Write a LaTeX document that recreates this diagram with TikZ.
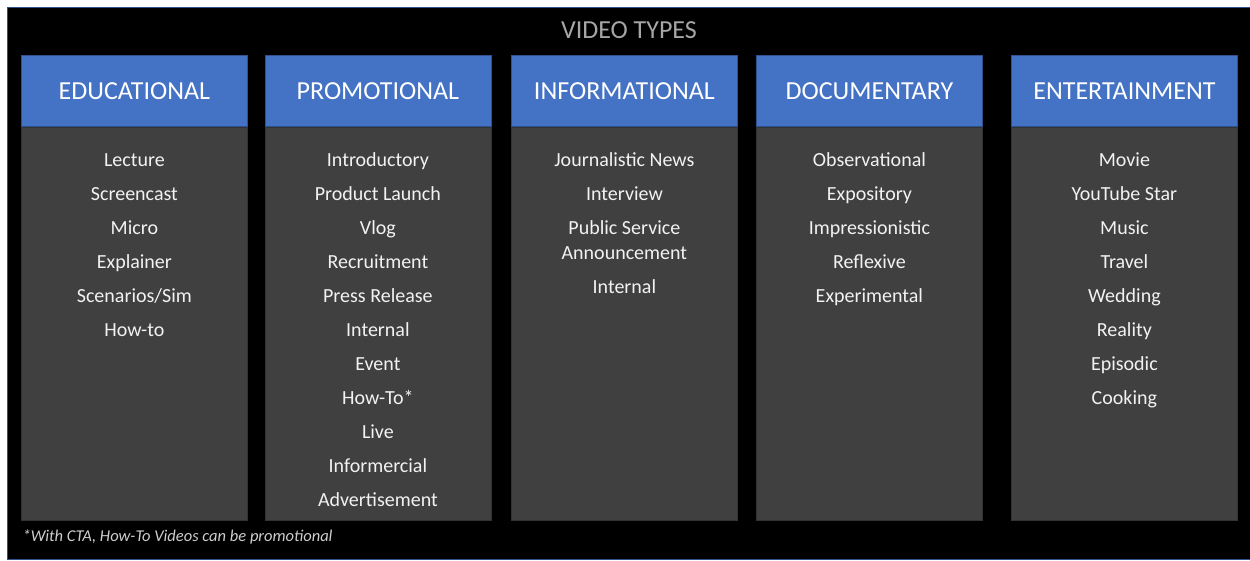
\documentclass[tikz,border=0pt]{standalone}
\usepackage{fontspec}
\setmainfont{Carlito}
\usetikzlibrary{positioning}
\definecolor{headblue}{HTML}{4472C4}
\definecolor{headedge}{HTML}{2F528F}
\definecolor{panelgray}{HTML}{404040}
\definecolor{titlegray}{HTML}{A6A6A6}
\definecolor{itemwhite}{HTML}{F2F2F2}

\begin{document}
\begin{tikzpicture}[
    x=1pt, y=-1pt,
    header/.style={rectangle, draw=headedge, line width=0.8pt, fill=headblue, minimum width=226pt, minimum height=71pt, inner sep=0pt, anchor=north west, text=white, font=\fontsize{26}{30}\selectfont},
    panel/.style={rectangle, draw=panelgray!80!black, line width=0.6pt, fill=panelgray, minimum width=226pt, minimum height=393pt, inner sep=0pt, anchor=north},
    items/.style={anchor=north, align=center, inner sep=0pt, text=itemwhite, font=\fontsize{20}{25}\selectfont}
]
\useasboundingbox (0,0) rectangle (1250,561);

% black frame
\draw [draw=headedge, line width=0.8pt, fill=black] (7,7.5) rectangle (1252,559.5);
\node (title) [text=titlegray, font=\fontsize{26}{30}\selectfont] at (629,30) {VIDEO TYPES};

% Headers
\node (edu_head) [header] at (21,55.5) {EDUCATIONAL};
\node (promo_head) [header] at (264.5,55.5) {PROMOTIONAL};
\node (info_head) [header] at (511,55.5) {INFORMATIONAL};
\node (doc_head) [header] at (756,55.5) {DOCUMENTARY};
\node (ent_head) [header] at (1011,55.5) {ENTERTAINMENT};

% Panels
\node (edu_panel) [panel, below=0pt of edu_head] {};
\node (promo_panel) [panel, below=0pt of promo_head] {};
\node (info_panel) [panel, below=0pt of info_head] {};
\node (doc_panel) [panel, below=0pt of doc_head] {};
\node (ent_panel) [panel, below=0pt of ent_head] {};

% Lists
\node (edu_list) [items, below=26pt of edu_head] {Lecture\\[9pt] Screencast\\[9pt] Micro\\[9pt] Explainer\\[9pt] Scenarios/Sim\\[9pt] How-to};
\node (promo_list) [items, below=25.5pt of promo_head] {Introductory\\[9pt] Product Launch\\[9pt] Vlog\\[9pt] Recruitment\\[9pt] Press Release\\[9pt] Internal\\[9pt] Event\\[9pt] How-To*\\[9pt] Live\\[9pt] Informercial\\[9pt] Advertisement};
\node (info_list) [items, below=25.5pt of info_head] {Journalistic News\\[9pt] Interview\\[9pt] Public Service\\ Announcement\\[9pt] Internal};
\node (doc_list) [items, below=25.5pt of doc_head] {Observational\\[9pt] Expository\\[9pt] Impressionistic\\[9pt] Reflexive\\[9pt] Experimental};
\node (ent_list) [items, below=25.5pt of ent_head] {Movie\\[9pt] YouTube Star\\[9pt] Music\\[9pt] Travel\\[9pt] Wedding\\[9pt] Reality\\[9pt] Episodic\\[9pt] Cooking};

% Footnote
\node (note) [anchor=west, text=itemwhite!85!black, font=\itshape\fontsize{16.5}{19}\selectfont] at (19,537) {*With CTA, How-To Videos can be promotional};

\end{tikzpicture}
\end{document}
